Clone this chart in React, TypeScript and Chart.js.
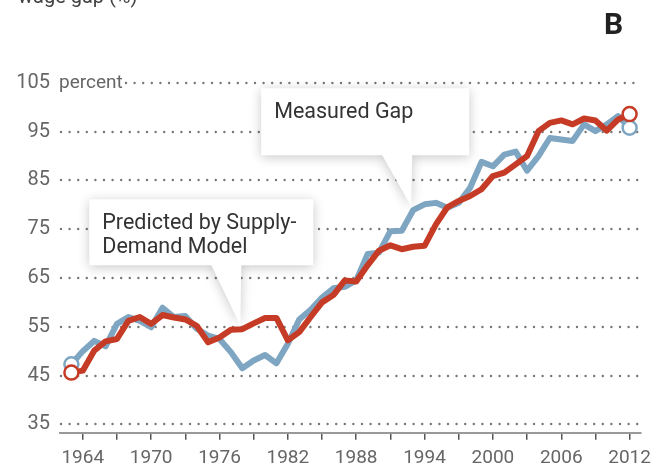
import React, { useEffect, useRef } from "react";
import { Chart, registerables } from "chart.js";

Chart.register(...registerables);

const years = [
  1963, 1964, 1965, 1966, 1967, 1968, 1969, 1970, 1971, 1972,
  1973, 1974, 1975, 1976, 1977, 1978, 1979, 1980, 1981, 1982,
  1983, 1984, 1985, 1986, 1987, 1988, 1989, 1990, 1991, 1992,
  1993, 1994, 1995, 1996, 1997, 1998, 1999, 2000, 2001, 2002,
  2003, 2004, 2005, 2006, 2007, 2008, 2009, 2010, 2011, 2012,
];

const measuredGap = [
  47.3, 50.0, 52.1, 51.0, 55.6, 57.0, 56.2, 54.9, 58.9, 57.0,
  57.2, 54.6, 53.2, 52.5, 49.8, 46.5, 48.1, 49.2, 47.5, 51.5,
  56.5, 58.5, 61.0, 62.9, 63.2, 64.5, 69.9, 70.2, 74.6, 74.7,
  78.9, 80.1, 80.4, 79.4, 80.4, 83.5, 88.8, 87.9, 90.3, 90.9,
  87.0, 90.0, 93.7, 93.4, 93.1, 96.5, 95.1, 96.5, 98.2, 95.8,
];

const predictedGap = [
  45.6, 46.0, 50.1, 52.0, 52.5, 56.2, 57.0, 55.6, 57.4, 56.9,
  56.5, 55.2, 51.8, 52.8, 54.4, 54.5, 55.7, 56.8, 56.8, 52.2,
  53.9, 57.0, 60.0, 61.5, 64.5, 64.3, 67.6, 70.6, 71.7, 70.9,
  71.4, 71.6, 76.0, 79.5, 80.8, 81.8, 83.2, 85.9, 86.6, 88.3,
  90.0, 95.1, 96.8, 97.3, 96.5, 97.7, 97.3, 95.2, 97.5, 98.6,
];

const yTicks = [35, 45, 55, 65, 75, 85, 95, 105];
const xTickMarks = [1964, 1967, 1970, 1973, 1976, 1979, 1982, 1985, 1988, 1991, 1994, 1997, 2000, 2003, 2006, 2009, 2012];
const xTickLabels = [1964, 1970, 1976, 1982, 1988, 1994, 2000, 2006, 2012];

const BLUE = "#7ea6c2";
const RED = "#c63b26";
const FONT = "Roboto, 'Noto Sans', sans-serif";

const decorPlugin = {
  id: "decor",
  beforeDatasetsDraw(chart: any) {
    const ctx = chart.ctx;
    const y = chart.scales.y;
    const area = chart.chartArea;
    ctx.save();
    ctx.strokeStyle = "#777";
    ctx.lineWidth = 2.4;
    ctx.lineCap = "round";
    ctx.setLineDash([0, 8.6]);
    yTicks.forEach((v) => {
      const py = Math.round(y.getPixelForValue(v));
      const x0 = v === 105 ? area.left + 66 : area.left + 1;
      ctx.beginPath();
      ctx.moveTo(x0, py);
      ctx.lineTo(area.right - 1, py);
      ctx.stroke();
    });
    ctx.setLineDash([]);
    ctx.fillStyle = "#666";
    ctx.font = `400 19px ${FONT}`;
    ctx.textBaseline = "middle";
    ctx.textAlign = "left";
    ctx.fillText("percent", area.left - 1, y.getPixelForValue(105));
    // title remnants
    ctx.fillStyle = "#444";
    ctx.font = `400 20px ${FONT}`;
    ctx.textBaseline = "alphabetic";
    ctx.fillText("wage gap (%)", 18, 3);
    ctx.fillStyle = "#222";
    ctx.font = `bold 30px ${FONT}`;
    ctx.fillText("B", 604, 34);
    ctx.restore();
  },
  afterDatasetsDraw(chart: any) {
    const ctx = chart.ctx;
    const xs = chart.scales.x;
    const ys = chart.scales.y;
    const notes = [
      { year: 1993, series: measuredGap, lines: ["Measured Gap"], l: -150, r: 58, t: -118, b: -51 },
      { year: 1978, series: predictedGap, lines: ["Predicted by Supply-", "Demand Model"], l: -151, r: 73, t: -126, b: -60 },
    ];
    notes.forEach((n) => {
      const idx = years.indexOf(n.year);
      const tx = xs.getPixelForValue(n.year) - 2;
      const ty = ys.getPixelForValue(n.series[idx]) - 4;
      const L = tx + n.l, R = tx + n.r, T = ty + n.t, B = ty + n.b;
      ctx.save();
      ctx.shadowColor = "rgba(0,0,0,0.22)";
      ctx.shadowBlur = 12;
      ctx.shadowOffsetY = 2;
      ctx.fillStyle = "#fff";
      ctx.beginPath();
      ctx.moveTo(L, T);
      ctx.lineTo(R, T);
      ctx.lineTo(R, B);
      ctx.lineTo(tx + 1, B);
      ctx.lineTo(tx, ty);
      ctx.lineTo(tx - 29, B);
      ctx.lineTo(L, B);
      ctx.closePath();
      ctx.fill();
      ctx.restore();
      ctx.save();
      ctx.fillStyle = "#333";
      ctx.font = `400 21.5px ${FONT}`;
      ctx.textBaseline = "alphabetic";
      n.lines.forEach((s, i) => ctx.fillText(s, L + 13, T + 30 + i * 23.5));
      ctx.restore();
    });
  },
};

export default function App() {
  const ref = useRef<HTMLCanvasElement>(null);
  useEffect(() => {
    if (!ref.current) return;
    const last = years.length - 1;
    const pr = (c: any) => (c.dataIndex === 0 || c.dataIndex === last ? 7 : 0);
    const chart = new Chart(ref.current, {
      type: "line",
      data: {
        datasets: [
          {
            label: "Predicted by Supply-Demand Model",
            data: years.map((yr, i) => ({ x: yr, y: predictedGap[i] })),
            borderColor: RED,
            borderWidth: 6,
            borderJoinStyle: "round",
            pointRadius: pr,
            pointBackgroundColor: "#fff",
            pointBorderColor: RED,
            pointBorderWidth: 2.5,
            tension: 0,
          },
          {
            label: "Measured Gap",
            data: years.map((yr, i) => ({ x: yr, y: measuredGap[i] })),
            borderColor: BLUE,
            borderWidth: 6,
            borderJoinStyle: "round",
            pointRadius: pr,
            pointBackgroundColor: "#fff",
            pointBorderColor: BLUE,
            pointBorderWidth: 2.5,
            tension: 0,
          },
        ],
      },
      options: {
        animation: false,
        responsive: false,
        devicePixelRatio: 1,
        clip: false as any,
        layout: { padding: { left: 8, right: 21, top: 78, bottom: 0 } },
        plugins: { legend: { display: false }, tooltip: { enabled: false } },
        scales: {
          x: {
            type: "linear",
            min: 1962,
            max: 2013,
            afterBuildTicks: (s: any) => {
              s.ticks = xTickMarks.map((v) => ({ value: v }));
            },
            afterFit: (s: any) => {
              s.height = 33.3;
            },
            border: { display: true, color: "#999", width: 2 },
            grid: { display: true, drawOnChartArea: false, drawTicks: true, tickLength: 7, color: "#555", lineWidth: 1.5 },
            ticks: {
              autoSkip: false,
              maxRotation: 0,
              padding: 7,
              color: "#666",
              font: { family: FONT, size: 19, weight: "400" as any },
              callback: (v: any) => (xTickLabels.includes(Number(v)) ? String(v) : ""),
            },
          },
          y: {
            type: "linear",
            min: 33.28,
            max: 106,
            afterBuildTicks: (s: any) => {
              s.ticks = yTicks.map((v) => ({ value: v }));
            },
            afterFit: (s: any) => {
              s.width = 52;
            },
            border: { display: false },
            grid: { display: false, drawTicks: false },
            ticks: {
              padding: 10,
              color: "#666",
              font: { family: FONT, size: 20, weight: "400" as any },
            },
          },
        },
      },
      plugins: [decorPlugin],
    });
    return () => chart.destroy();
  }, []);
  return (
    <div style={{ position: "fixed", left: 0, top: 0, width: 662, height: 466, background: "#fff" }}>
      <canvas ref={ref} width={662} height={466} style={{ width: 662, height: 466 }} />
    </div>
  );
}
